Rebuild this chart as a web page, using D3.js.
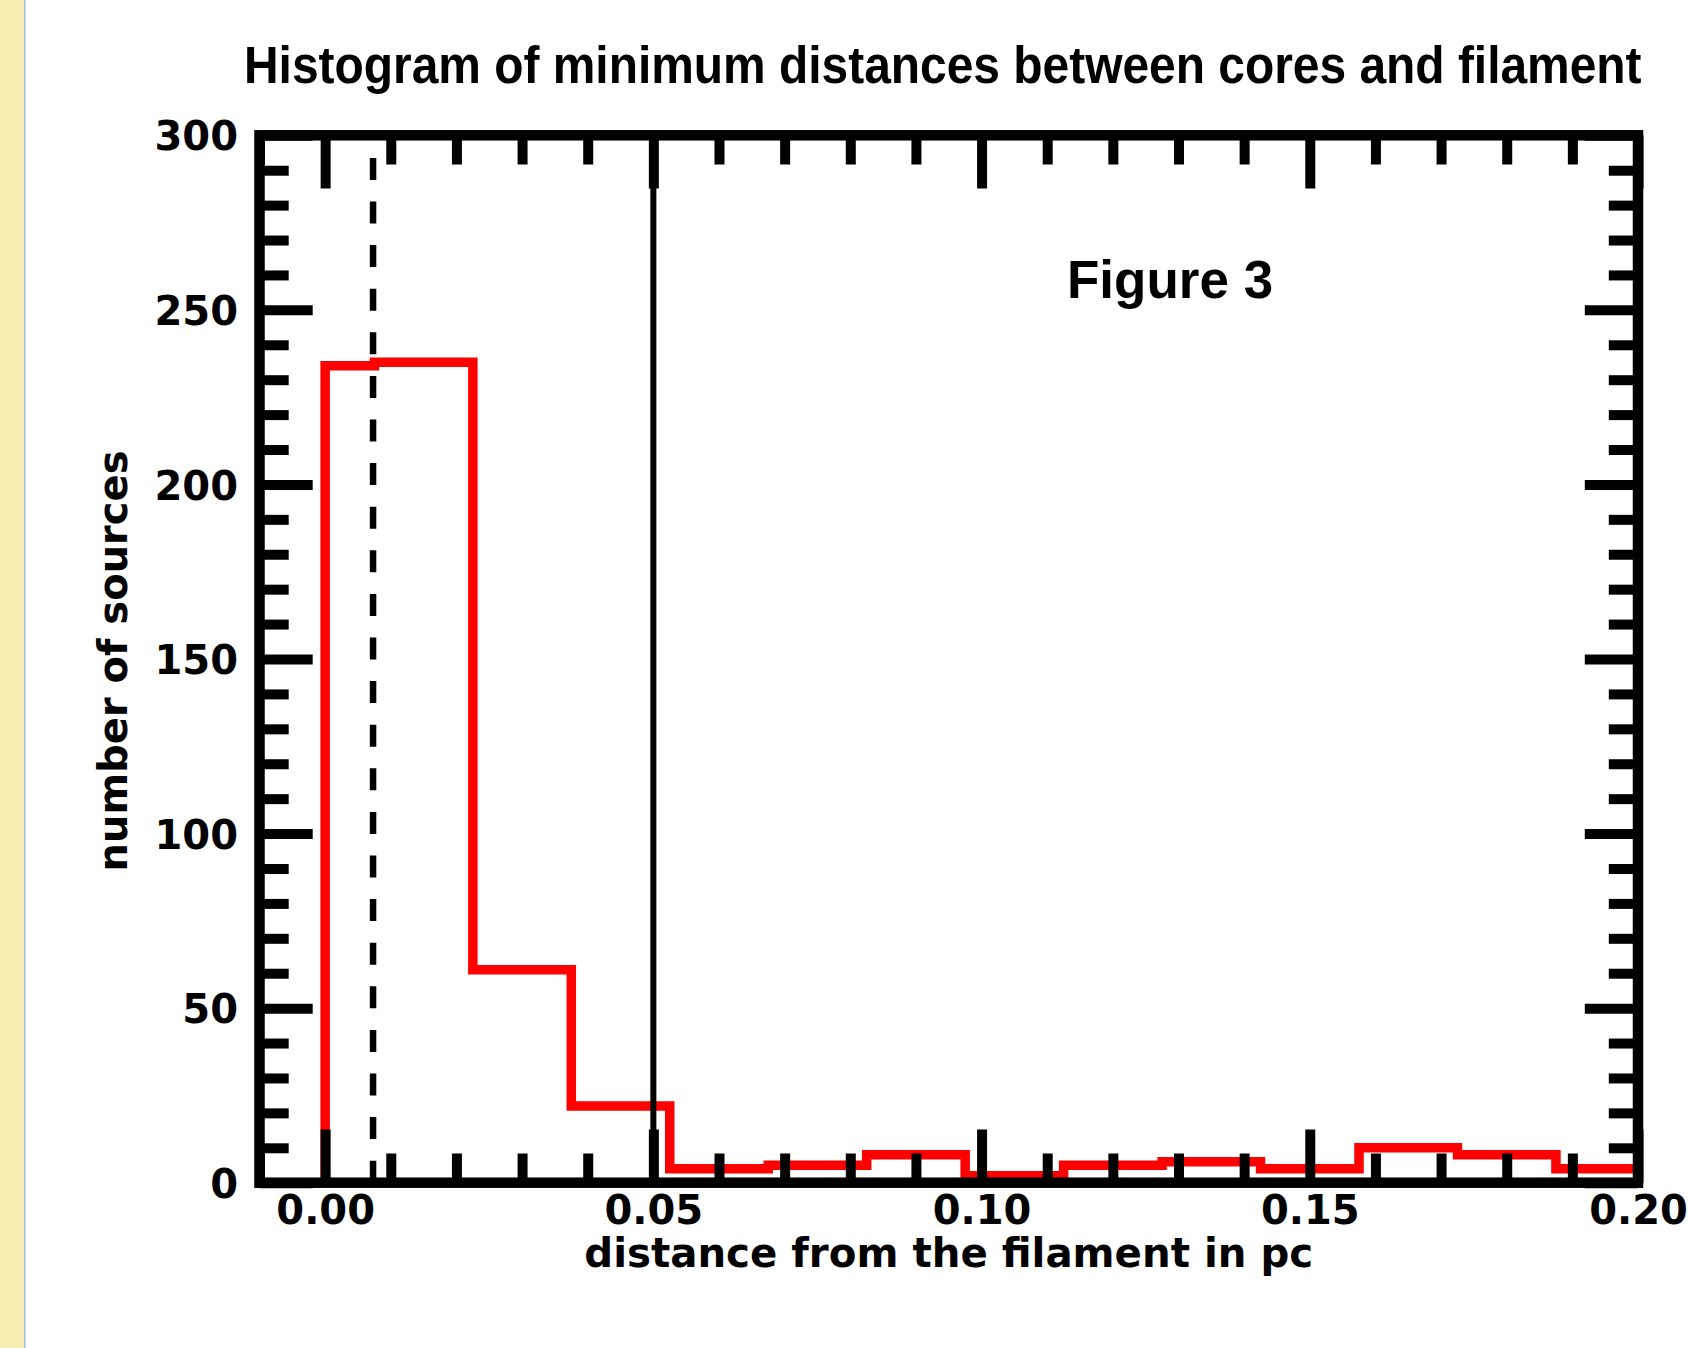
<!DOCTYPE html>
<html>
<head>
<meta charset="utf-8">
<script src="https://cdn.jsdelivr.net/npm/d3@7"></script>
<style>
  html, body { margin: 0; padding: 0; background: #ffffff; }
  svg { display: block; }
</style>
</head>
<body>
<svg id="chart" width="1688" height="1348"></svg>
<script>
// ---- data ----
const binCenters = [0.000, 0.015, 0.030, 0.045, 0.060, 0.075, 0.090, 0.105, 0.120, 0.135, 0.150, 0.165, 0.180, 0.195];
const counts     = [234,   235,   61,    22,    4,     5,     8,     2,     5,     6,     4,     10,    8,     4];
const xMajorTicks = [0.00, 0.05, 0.10, 0.15, 0.20];
const xMinorTicks = [-0.01, 0.01, 0.02, 0.03, 0.04, 0.06, 0.07, 0.08, 0.09, 0.11, 0.12, 0.13, 0.14, 0.16, 0.17, 0.18, 0.19];
const yMajorTicks = [0, 50, 100, 150, 200, 250, 300];
const yMinorTicks = [10, 20, 30, 40, 60, 70, 80, 90, 110, 120, 130, 140, 160, 170, 180, 190, 210, 220, 230, 240, 260, 270, 280, 290];
const dashedLineX = 0.0073;
const solidLineX = 0.05;
const xDomain = [-0.01, 0.20];
const yDomain = [0, 300];
const titleText = "Histogram of minimum distances between cores and filament";
const xLabelText = "distance from the filament in pc";
const yLabelText = "number of sources";
const figureText = "Figure 3";

// ---- layout ----
const svg = d3.select("#chart");
const L = 259.5, R = 1638, T = 135.3, B = 1182.7;
const x = d3.scaleLinear().domain(xDomain).range([L, R]);
const y = d3.scaleLinear().domain(yDomain).range([B, T]);
const MAJ = 53.2, MIN = 29.2, TW = 10;
const tickFont = "'DejaVu Sans', sans-serif";

// left yellow strip
svg.append("rect").attr("x", 0).attr("y", 0).attr("width", 24).attr("height", 1348).attr("fill", "#f7eeb1");
svg.append("rect").attr("x", 24).attr("y", 0).attr("width", 1.5).attr("height", 1348).attr("fill", "#a9bcd6");

// clip to plot frame
svg.append("defs").append("clipPath").attr("id", "plotclip")
  .append("rect").attr("x", L).attr("y", T).attr("width", R - L).attr("height", B - T);

const plot = svg.append("g").attr("clip-path", "url(#plotclip)");

// histogram step line
const pts = [[binCenters[0], 0]].concat(binCenters.map((c, i) => [c, counts[i]]))
  .concat([[xDomain[1], counts[counts.length - 1]]]);
const line = d3.line().x(d => x(d[0])).y(d => y(d[1])).curve(d3.curveStep);
plot.append("path").attr("d", line(pts))
  .attr("fill", "none").attr("stroke", "#ff0000").attr("stroke-width", 9.5)
  .attr("stroke-linejoin", "miter").attr("stroke-linecap", "butt");

// dashed vertical line (drawn from bottom up)
plot.append("line")
  .attr("x1", x(dashedLineX)).attr("x2", x(dashedLineX))
  .attr("y1", y(0)).attr("y2", y(300))
  .attr("stroke", "#000").attr("stroke-width", 6.5)
  .attr("stroke-dasharray", "22,21.6");

// solid vertical line
plot.append("line")
  .attr("x1", x(solidLineX)).attr("x2", x(solidLineX))
  .attr("y1", y(0)).attr("y2", y(300))
  .attr("stroke", "#000").attr("stroke-width", 6);

// ---- axes ----
function styleAxis(g) {
  g.select(".domain").remove();
  g.selectAll(".tick line").attr("stroke", "#000").attr("stroke-width", TW).attr("stroke-linecap", "butt");
  g.selectAll(".tick text").attr("fill", "#000").attr("font-family", tickFont)
    .attr("font-weight", "bold").attr("font-size", 40);
}

// bottom
svg.append("g").attr("transform", `translate(0,${B})`)
  .call(d3.axisBottom(x).tickValues(xMinorTicks).tickSize(-MIN).tickFormat(""))
  .call(styleAxis);
const bx = svg.append("g").attr("transform", `translate(0,${B})`)
  .call(d3.axisBottom(x).tickValues(xMajorTicks).tickSize(-MAJ).tickFormat(d3.format(".2f")))
  .call(styleAxis);
bx.selectAll(".tick text").attr("y", 41.6).attr("dy", null);

// top
svg.append("g").attr("transform", `translate(0,${T})`)
  .call(d3.axisTop(x).tickValues(xMinorTicks).tickSize(-MIN).tickFormat(""))
  .call(styleAxis);
svg.append("g").attr("transform", `translate(0,${T})`)
  .call(d3.axisTop(x).tickValues(xMajorTicks).tickSize(-MAJ).tickFormat(""))
  .call(styleAxis);

// left
svg.append("g").attr("transform", `translate(${L},0)`)
  .call(d3.axisLeft(y).tickValues(yMinorTicks).tickSize(-MIN).tickFormat(""))
  .call(styleAxis);
const ly = svg.append("g").attr("transform", `translate(${L},0)`)
  .call(d3.axisLeft(y).tickValues(yMajorTicks).tickSize(-MAJ).tickFormat(d3.format("d")))
  .call(styleAxis);
ly.selectAll(".tick text").attr("x", 238 - L).attr("dy", "0.365em").attr("text-anchor", "end");

// right
svg.append("g").attr("transform", `translate(${R},0)`)
  .call(d3.axisRight(y).tickValues(yMinorTicks).tickSize(-MIN).tickFormat(""))
  .call(styleAxis);
svg.append("g").attr("transform", `translate(${R},0)`)
  .call(d3.axisRight(y).tickValues(yMajorTicks).tickSize(-MAJ).tickFormat(""))
  .call(styleAxis);

// frame
svg.append("rect").attr("x", L).attr("y", T).attr("width", R - L).attr("height", B - T)
  .attr("fill", "none").attr("stroke", "#000").attr("stroke-width", 10.5)
  .attr("stroke-linejoin", "miter");

// ---- texts ----
// title: condensed horizontally to the reference width via a scale transform
const titleG = svg.append("g");
const title = titleG.append("text").attr("x", 0).attr("y", 0)
  .attr("font-family", "'Liberation Sans', Arial, sans-serif").attr("font-weight", "bold")
  .attr("font-size", 51).attr("fill", "#000").text(titleText);
const natW = title.node().getComputedTextLength();
const sx = 1398 / natW;
titleG.attr("transform", `translate(244,83) scale(${sx},1)`);

svg.append("text").attr("x", (L + R) / 2).attr("y", 1267)
  .attr("text-anchor", "middle").attr("font-family", tickFont).attr("font-weight", "bold")
  .attr("font-size", 40.3).attr("fill", "#000").text(xLabelText);

svg.append("text").attr("transform", `translate(127,${(T + B) / 2 + 2}) rotate(-90)`)
  .attr("text-anchor", "middle").attr("font-family", tickFont).attr("font-weight", "bold")
  .attr("font-size", 40).attr("fill", "#000").text(yLabelText);

svg.append("text").attr("x", 1067).attr("y", 297.5)
  .attr("font-family", "'Liberation Sans', Arial, sans-serif").attr("font-weight", "bold")
  .attr("font-size", 53).attr("fill", "#000").text(figureText);
</script>
</body>
</html>
